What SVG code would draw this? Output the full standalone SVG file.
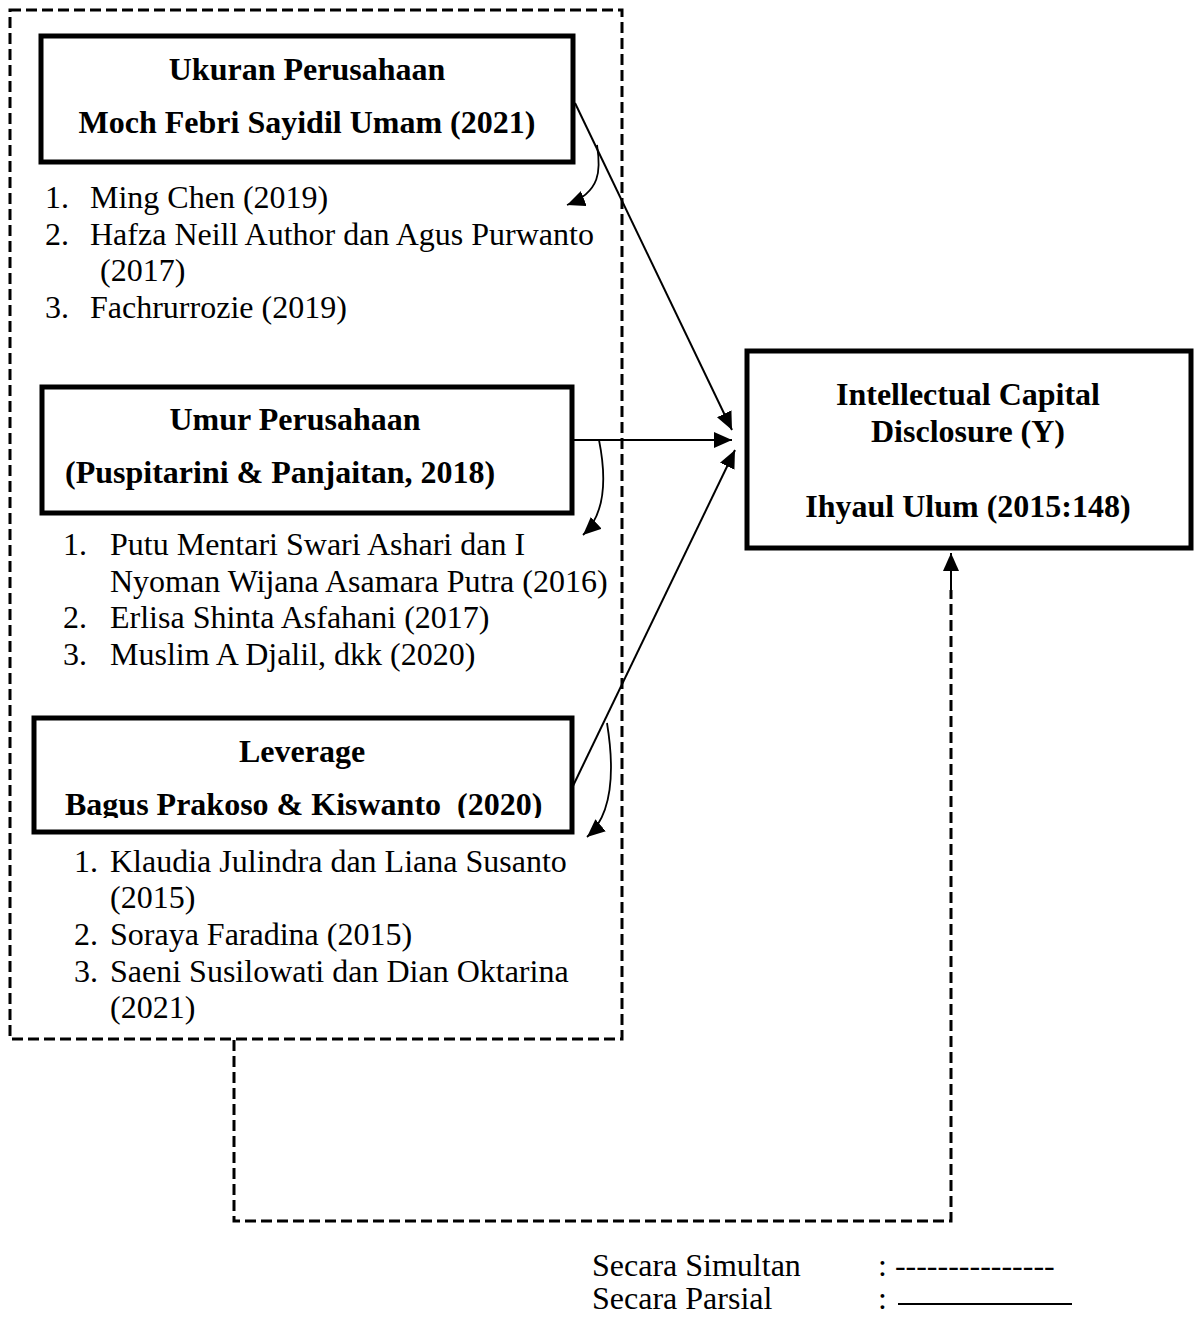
<svg xmlns="http://www.w3.org/2000/svg" width="1200" height="1317" viewBox="0 0 1200 1317">
<style>
text{font-family:"Liberation Serif","Times New Roman",serif;font-size:32px;fill:#000;white-space:pre}
.b{font-weight:bold}
.m{text-anchor:middle}
.box{fill:#fff;stroke:#000;stroke-width:5}
.dash{fill:none;stroke:#000;stroke-width:3;stroke-dasharray:11 5}
.ln{fill:none;stroke:#000;stroke-width:2}
.cv{fill:none;stroke:#000;stroke-width:1.8}
</style>
<defs>
<marker id="ah" markerUnits="userSpaceOnUse" markerWidth="20" markerHeight="18" refX="18" refY="8" orient="auto">
<path d="M0,0 L18,8 L0,16 z" fill="#000"/>
</marker>
<clipPath id="c3"><rect x="30" y="700" width="560" height="118"/></clipPath>
</defs>
<rect fill="#fff" x="0" y="0" width="1200" height="1317"/>
<g id="group-outer">
<rect class="dash" x="10" y="10" width="612" height="1029"/>
</g>
<g id="node-ukuran">
<rect class="box" x="41" y="36" width="532" height="126"/>
<text class="b m" x="307" y="80">Ukuran Perusahaan</text>
<text class="b m" x="307" y="133">Moch Febri Sayidil Umam (2021)</text>
</g>
<g id="list-ukuran">
<text x="45" y="208">1.</text><text x="90" y="208">Ming Chen (2019)</text>
<text x="45" y="245">2.</text><text x="90" y="245">Hafza Neill Author dan Agus Purwanto</text>
<text x="100" y="281">(2017)</text>
<text x="45" y="318">3.</text><text x="90" y="318">Fachrurrozie (2019)</text>
</g>
<g id="node-umur">
<rect class="box" x="42" y="387" width="530" height="126"/>
<text class="b m" x="295" y="430">Umur Perusahaan</text>
<text class="b" x="65" y="483">(Puspitarini &amp; Panjaitan, 2018)</text>
</g>
<g id="list-umur">
<text x="63" y="555">1.</text><text x="110" y="555">Putu Mentari Swari Ashari dan I</text>
<text x="110" y="592">Nyoman Wijana Asamara Putra (2016)</text>
<text x="63" y="628">2.</text><text x="110" y="628">Erlisa Shinta Asfahani (2017)</text>
<text x="63" y="665">3.</text><text x="110" y="665">Muslim A Djalil, dkk (2020)</text>
</g>
<g id="node-leverage">
<rect class="box" x="34" y="718" width="538" height="114"/>
<text class="b m" x="302" y="762">Leverage</text>
<text class="b" x="65" y="815" clip-path="url(#c3)">Bagus Prakoso &amp; Kiswanto  (2020)</text>
</g>
<g id="list-leverage">
<text x="74" y="872">1.</text><text x="110" y="872">Klaudia Julindra dan Liana Susanto</text>
<text x="110" y="908">(2015)</text>
<text x="74" y="945">2.</text><text x="110" y="945">Soraya Faradina (2015)</text>
<text x="74" y="982">3.</text><text x="110" y="982">Saeni Susilowati dan Dian Oktarina</text>
<text x="110" y="1018">(2021)</text>
</g>
<g id="node-y">
<rect class="box" x="747" y="351" width="444" height="197"/>
<text class="b m" x="968" y="405">Intellectual Capital</text>
<text class="b m" x="968" y="442">Disclosure (Y)</text>
<text class="b m" x="968" y="517">Ihyaul Ulum (2015:148)</text>
</g>
<g id="connectors">
<line class="ln" x1="575" y1="103" x2="732" y2="430" marker-end="url(#ah)"/>
<line class="ln" x1="572" y1="440" x2="732" y2="440" marker-end="url(#ah)"/>
<line class="ln" x1="572" y1="788" x2="735" y2="450" marker-end="url(#ah)"/>
<path class="cv" d="M597,145 C601,170 601,192 567,205" marker-end="url(#ah)"/>
<path class="cv" d="M599,440 C605,470 608,512 583,535" marker-end="url(#ah)"/>
<path class="cv" d="M607,723 C613,760 616,812 587,837" marker-end="url(#ah)"/>
<path class="dash" d="M234,1040 L234,1221 L951,1221 L951,590"/>
<line class="ln" x1="951" y1="592" x2="951" y2="553" marker-end="url(#ah)"/>
</g>
<g id="legend">
<text x="592" y="1276">Secara Simultan</text>
<text x="878" y="1276">: ---------------</text>
<text x="592" y="1309">Secara Parsial</text>
<text x="878" y="1309">:</text>
<line x1="898" y1="1304" x2="1072" y2="1304" stroke="#000" stroke-width="2"/>
</g>
</svg>
